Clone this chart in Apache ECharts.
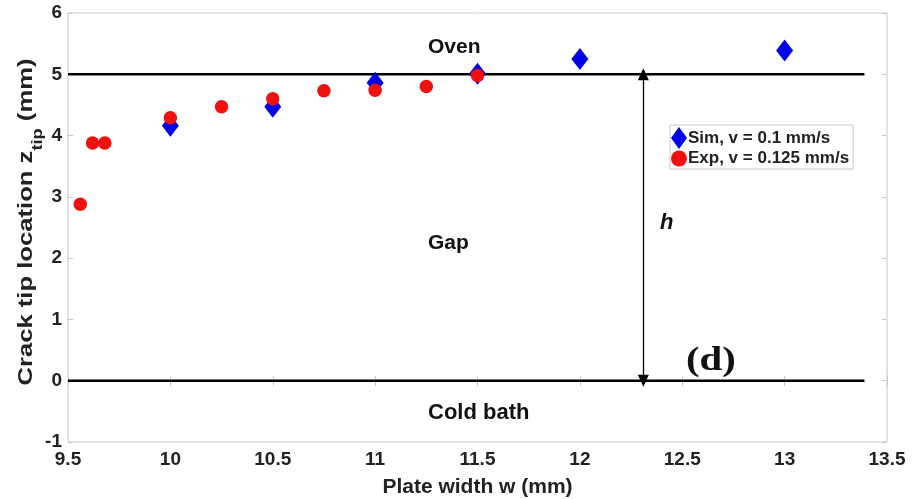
<!DOCTYPE html>
<html>
<head>
<meta charset="utf-8">
<script src="https://cdn.jsdelivr.net/npm/echarts@6/dist/echarts.min.js"></script>
<style>
  html,body{margin:0;padding:0;background:#fff;}
  #main{width:917px;height:499px;}
</style>
</head>
<body>
<div id="main"></div>
<script>
// sim (blue diamonds)
var simW = [10, 10.5, 11, 11.5, 12, 13];
var simZ = [4.16, 4.47, 4.86, 5.01, 5.25, 5.39];
// exp (red circles)
var expW = [9.56, 9.62, 9.68, 10, 10.25, 10.5, 10.75, 11, 11.25, 11.5];
var expZ = [2.88, 3.88, 3.88, 4.29, 4.47, 4.60, 4.73, 4.74, 4.80, 4.98];
// oven / bath boundary lines and the gap arrow
var levels = [5, 0];
var levelW = [9.5, 13.39];
var arrowW = 12.31;

var font = 'Liberation Sans, Arial, sans-serif';
var gridColor = '#c8c8c8';

function pairs(xs, ys){
    var out = [];
    for (var i = 0; i < xs.length; i++) out.push([xs[i], ys[i]]);
    return out;
}

var levelSeries = levels.map(function(v){
    return {
        type: 'line', silent: true, symbol: 'none', z: 1,
        lineStyle: {color: '#000', width: 2.4},
        data: levelW.map(function(w){ return [w, v]; })
    };
});

var myChart = echarts.init(document.getElementById('main'));
var option = {
    animation: false,
    grid: {left: 68, top: 13, right: 30, bottom: 57, show: true, borderColor: gridColor, borderWidth: 1,
           outerBoundsMode: 'none', containLabel: false},
    xAxis: [{
        type: 'value', min: 9.5, max: 13.5, interval: 0.5,
        name: 'Plate width w (mm)', nameLocation: 'middle', nameGap: 35,
        nameTextStyle: {fontFamily: font, fontWeight: 'bold', fontSize: 21, color: '#222'},
        axisLine: {show: false},
        axisTick: {inside: true, length: 5, lineStyle: {color: gridColor}},
        axisLabel: {margin: 8, fontFamily: font, fontWeight: 'bold', fontSize: 19, color: '#222'},
        splitLine: {show: false}
    }, {
        type: 'value', position: 'top', min: 9.5, max: 13.5, interval: 0.5,
        axisLine: {show: false},
        axisTick: {inside: true, length: 5, lineStyle: {color: gridColor}},
        axisLabel: {show: false}, splitLine: {show: false}
    }],
    yAxis: [{
        type: 'value', min: -1, max: 6, interval: 1,
        axisLine: {show: false},
        axisTick: {inside: true, length: 5, lineStyle: {color: gridColor}},
        axisLabel: {margin: 6, fontFamily: font, fontWeight: 'bold', fontSize: 19, color: '#222'},
        splitLine: {show: false}
    }, {
        type: 'value', position: 'right', min: -1, max: 6, interval: 1,
        axisLine: {show: false},
        axisTick: {inside: true, length: 5, lineStyle: {color: gridColor}},
        axisLabel: {show: false}, splitLine: {show: false}
    }],
    legend: {
        orient: 'vertical', left: 670, top: 125,
        padding: [2, 4, 2, 1], itemGap: 1,
        itemWidth: 16, itemHeight: 22,
        borderColor: gridColor, borderWidth: 1, backgroundColor: '#fff',
        textStyle: {fontFamily: font, fontWeight: 'bold', fontSize: 17, color: '#222', padding: [0, 0, 0, -4]},
        data: ['Sim, v = 0.1 mm/s', 'Exp, v = 0.125 mm/s']
    },
    graphic: [
        // y axis title, stretched along its length like the original figure
        {type: 'text', x: 26, y: 222, rotation: Math.PI / 2, scaleX: 1.22,
         style: {text: 'Crack tip location z{sub|tip} (mm)', fontFamily: font, fontWeight: 'bold', fontSize: 21, fill: '#222',
                 align: 'center', verticalAlign: 'middle',
                 rich: {sub: {fontFamily: font, fontWeight: 'bold', fontSize: 15, fill: '#222', padding: [24, 0, 0, 0]}}}},
        {type: 'text', x: 428, y: 47, style: {text: 'Oven', fontFamily: font, fontWeight: 'bold', fontSize: 21, fill: '#111', verticalAlign: 'middle'}},
        {type: 'text', x: 428, y: 243, style: {text: 'Gap', fontFamily: font, fontWeight: 'bold', fontSize: 21, fill: '#111', verticalAlign: 'middle'}},
        {type: 'text', x: 428, y: 413, style: {text: 'Cold bath', fontFamily: font, fontWeight: 'bold', fontSize: 22, fill: '#111', verticalAlign: 'middle'}},
        {type: 'text', x: 660, y: 223, style: {text: 'h', fontFamily: font, fontWeight: 'bold', fontStyle: 'italic', fontSize: 22, fill: '#111', verticalAlign: 'middle'}},
        {type: 'text', x: 686, y: 361, scaleX: 1.2, style: {text: '(d)', fontFamily: 'Liberation Serif, Times New Roman, serif', fontWeight: 'bold', fontSize: 34, fill: '#111', verticalAlign: 'middle'}}
    ],
    series: levelSeries.concat([
        {
            type: 'line', silent: true, symbol: 'none', data: [], z: 2,
            markLine: {
                silent: true, symbol: ['triangle', 'triangle'], symbolSize: [11, 12],
                label: {show: false},
                lineStyle: {color: '#000', width: 1.3, type: 'solid'},
                data: [[{coord: [arrowW, levels[0]]}, {coord: [arrowW, levels[1]]}]]
            }
        },
        {
            name: 'Sim, v = 0.1 mm/s', type: 'scatter', symbol: 'diamond', symbolSize: [17, 22], z: 3,
            itemStyle: {color: '#0000e6', opacity: 1},
            data: pairs(simW, simZ)
        },
        {
            name: 'Exp, v = 0.125 mm/s', type: 'scatter', symbol: 'circle', symbolSize: 13.5, z: 4,
            itemStyle: {color: '#f01010', opacity: 1},
            data: pairs(expW, expZ)
        }
    ])
};
myChart.setOption(option);
</script>
</body>
</html>
